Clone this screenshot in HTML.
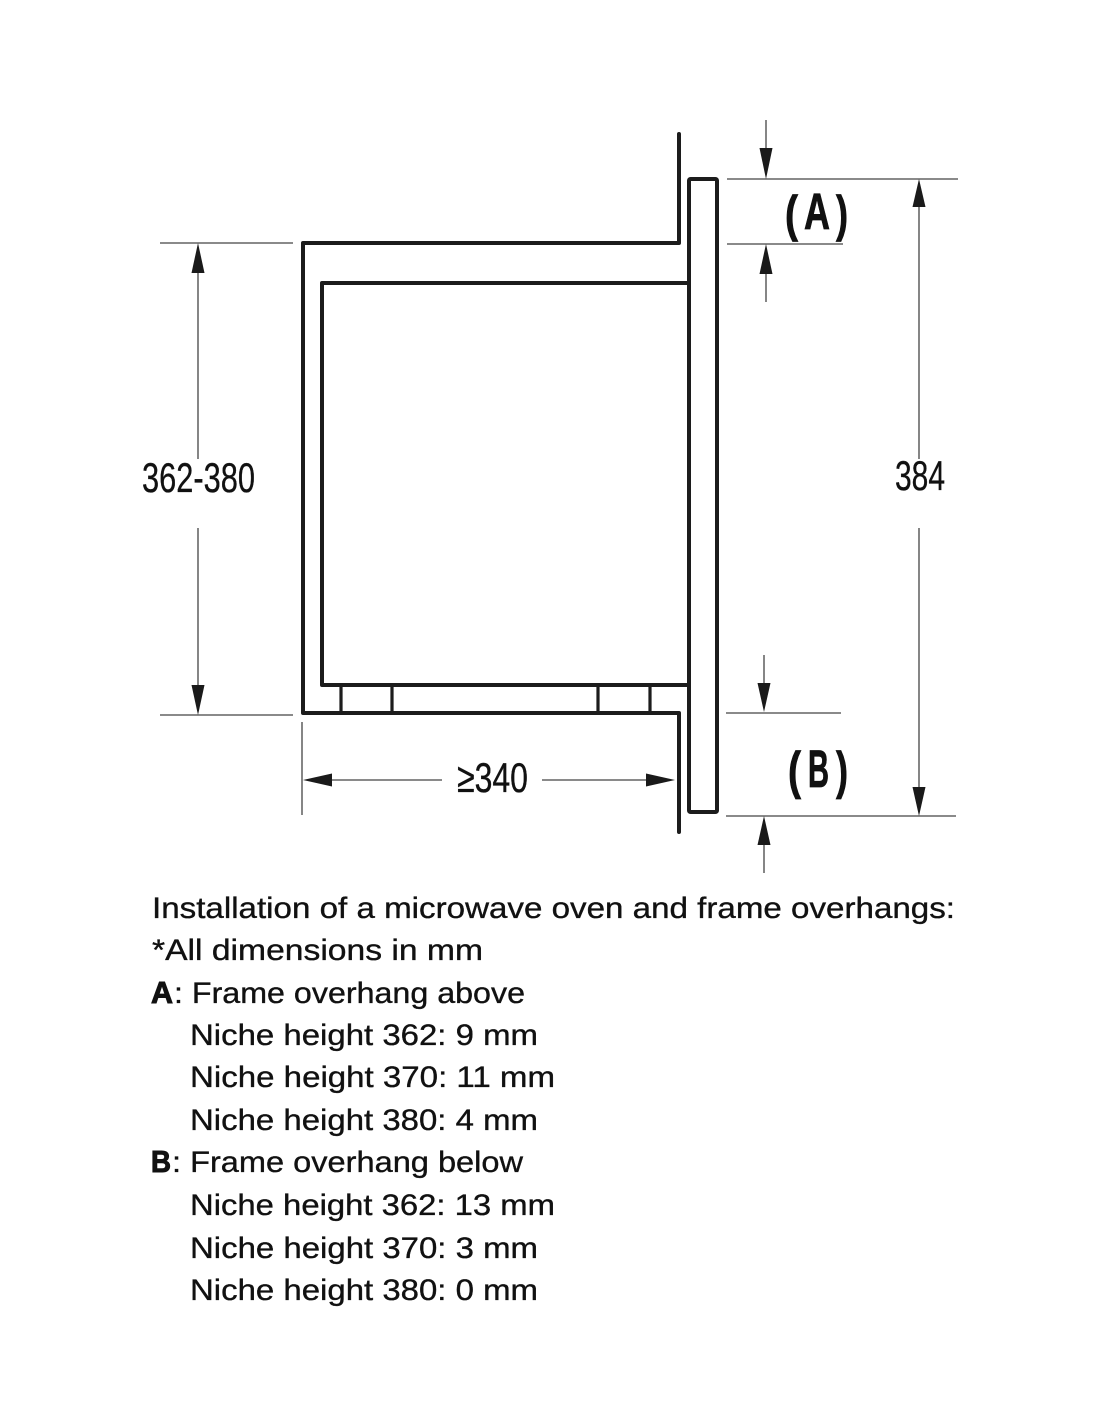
<!DOCTYPE html>
<html>
<head>
<meta charset="utf-8">
<style>
  html,body{margin:0;padding:0;background:#fff;}
  svg{display:block;}
  .t{font-family:"Liberation Sans",sans-serif;fill:#111;}
  .cap{stroke:#111;stroke-width:0.35;}
</style>
</head>
<body>
<svg width="1100" height="1422" viewBox="0 0 1100 1422" xmlns="http://www.w3.org/2000/svg">
  <rect width="1100" height="1422" fill="#fff"/>

  <!-- Main drawing (thick lines) -->
  <g fill="none" stroke="#1c1c1c" stroke-width="4" stroke-linejoin="round" stroke-linecap="round">
    <polyline points="679,134 679,243 303,243 303,713 679,713 679,832"/>
    <rect x="689" y="179" width="28" height="633" rx="1.5"/>
    <polyline points="689,283 322,283 322,685 689,685"/>
  </g>
  <!-- feet -->
  <g stroke="#1c1c1c" stroke-width="3.2">
    <line x1="341" y1="685" x2="341" y2="713"/>
    <line x1="392" y1="685" x2="392" y2="713"/>
    <line x1="598" y1="685" x2="598" y2="713"/>
    <line x1="650" y1="685" x2="650" y2="713"/>
  </g>

  <!-- Dimension lines (thin) -->
  <g stroke="#444" stroke-width="1.3" fill="none">
    <line x1="160" y1="243" x2="293" y2="243"/>
    <line x1="160" y1="715" x2="293" y2="715"/>
    <line x1="198" y1="260" x2="198" y2="459"/>
    <line x1="198" y1="528" x2="198" y2="700"/>
    <line x1="302" y1="722" x2="302" y2="815"/>
    <line x1="320" y1="780" x2="442" y2="780"/>
    <line x1="542" y1="780" x2="660" y2="780"/>
    <line x1="727" y1="179" x2="958" y2="179"/>
    <line x1="727" y1="244" x2="843" y2="244"/>
    <line x1="726" y1="713" x2="841" y2="713"/>
    <line x1="726" y1="816" x2="956" y2="816"/>
    <line x1="766" y1="120" x2="766" y2="160"/>
    <line x1="766" y1="260" x2="766" y2="302"/>
    <line x1="764" y1="655" x2="764" y2="695"/>
    <line x1="764" y1="830" x2="764" y2="873"/>
    <line x1="919" y1="195" x2="919" y2="459"/>
    <line x1="919" y1="528" x2="919" y2="800"/>
  </g>

  <!-- Arrowheads -->
  <g fill="#1a1a1a">
    <polygon points="198,243 191.5,273 204.5,273"/>
    <polygon points="198,715 191.5,685 204.5,685"/>
    <polygon points="303,780 332,773.5 332,786.5"/>
    <polygon points="675,780 646,773.5 646,786.5"/>
    <polygon points="766,179 759.5,148 772.5,148"/>
    <polygon points="766,244 759.5,274 772.5,274"/>
    <polygon points="764,712 757.5,683 770.5,683"/>
    <polygon points="764,816 757.5,845 770.5,845"/>
    <polygon points="919,179 912.5,207 925.5,207"/>
    <polygon points="919,816 912.5,787 925.5,787"/>
  </g>

  <!-- Dimension labels -->
  <g class="t cap">
    <text x="142" y="492" font-size="42" textLength="113" lengthAdjust="spacingAndGlyphs">362-380</text>
    <text x="895" y="490" font-size="42" textLength="50" lengthAdjust="spacingAndGlyphs">384</text>
    <text x="457" y="792" font-size="42" textLength="71" lengthAdjust="spacingAndGlyphs">≥340</text>
  </g>

  <!-- (A) / (B) -->
  <g class="t" font-weight="bold" stroke="#111" stroke-width="0.8">
    <text x="785" y="231" font-size="50" textLength="13" lengthAdjust="spacingAndGlyphs">(</text>
    <text x="804" y="229" font-size="51" textLength="26" lengthAdjust="spacingAndGlyphs">A</text>
    <text x="836" y="231" font-size="50" textLength="12" lengthAdjust="spacingAndGlyphs">)</text>
    <text x="788" y="788" font-size="52" textLength="13" lengthAdjust="spacingAndGlyphs">(</text>
    <text x="808" y="787" font-size="53" textLength="21" lengthAdjust="spacingAndGlyphs">B</text>
    <text x="836" y="788" font-size="52" textLength="12" lengthAdjust="spacingAndGlyphs">)</text>
  </g>

  <!-- Caption text -->
  <g class="t cap" font-size="30">
    <text x="152" y="918" textLength="803" lengthAdjust="spacingAndGlyphs">Installation of a microwave oven and frame overhangs:</text>
    <text x="152" y="960" textLength="331" lengthAdjust="spacingAndGlyphs">*All dimensions in mm</text>

    <text x="151" y="1003" font-weight="bold" font-size="31" stroke-width="1" textLength="22" lengthAdjust="spacingAndGlyphs">A</text>
    <text x="174" y="1003" textLength="351" lengthAdjust="spacingAndGlyphs">: Frame overhang above</text>
    <text x="190" y="1045" textLength="348" lengthAdjust="spacingAndGlyphs">Niche height 362: 9 mm</text>
    <text x="190" y="1087" textLength="365" lengthAdjust="spacingAndGlyphs">Niche height 370: 11 mm</text>
    <text x="190" y="1130" textLength="348" lengthAdjust="spacingAndGlyphs">Niche height 380: 4 mm</text>

    <text x="151" y="1172" font-weight="bold" font-size="31" stroke-width="1" textLength="20" lengthAdjust="spacingAndGlyphs">B</text>
    <text x="172" y="1172" textLength="351" lengthAdjust="spacingAndGlyphs">: Frame overhang below</text>
    <text x="190" y="1215" textLength="365" lengthAdjust="spacingAndGlyphs">Niche height 362: 13 mm</text>
    <text x="190" y="1258" textLength="348" lengthAdjust="spacingAndGlyphs">Niche height 370: 3 mm</text>
    <text x="190" y="1300" textLength="348" lengthAdjust="spacingAndGlyphs">Niche height 380: 0 mm</text>
  </g>
</svg>
</body>
</html>
